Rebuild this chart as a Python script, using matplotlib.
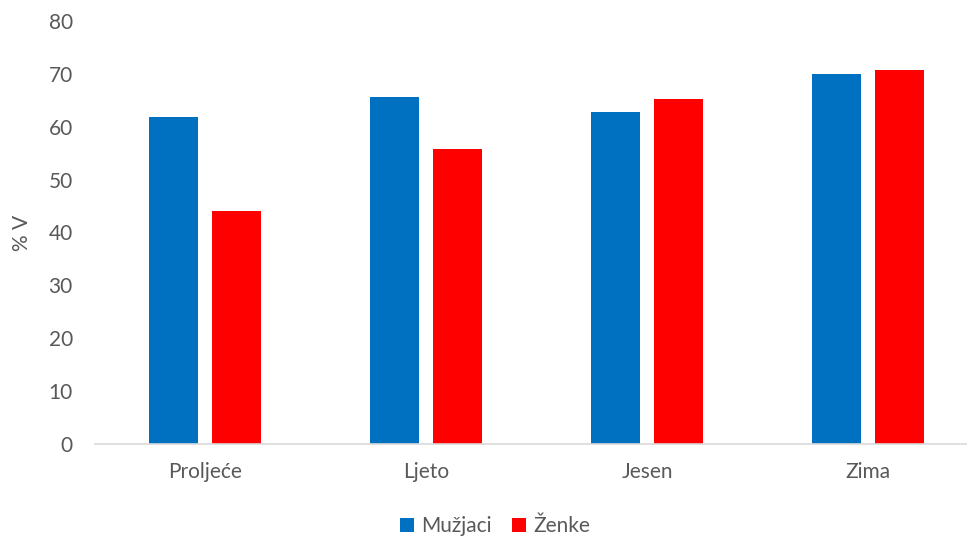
import matplotlib
matplotlib.use("Agg")
import matplotlib.pyplot as plt
import numpy as np

plt.rcParams['font.family'] = ['Lato', 'DejaVu Sans']

# --- Data ---
seasons = ["Proljeće", "Ljeto", "Jesen", "Zima"]
muzjaci = [61.8, 65.7, 62.8, 70.0]
zenke = [44.1, 55.7, 65.2, 70.7]

blue = "#0070C0"
red = "#FF0000"
grey = "#595959"
fs = 15

fig = plt.figure(figsize=(9.67, 5.4), dpi=100)
ax = fig.add_axes([95 / 967, 1 - 444 / 540, 872 / 967, (444 - 21) / 540])

x = np.arange(len(seasons))
w = 0.222
off = 0.285 / 2
ax.bar(x - off, muzjaci, width=w, color=blue, label="Mužjaci")
ax.bar(x + off, zenke, width=w, color=red, label="Ženke")

ax.set_xlim(-0.5, 3.448)
ax.set_ylim(0, 80)
ax.set_yticks(range(0, 81, 10))
ax.set_xticks(x)
ax.set_xticklabels(seasons)
ax.tick_params(axis='both', length=0, labelsize=fs, labelcolor=grey)
ax.tick_params(axis='x', pad=13)
ax.tick_params(axis='y', pad=16)

for s in ["top", "right", "left"]:
    ax.spines[s].set_visible(False)
ax.spines["bottom"].set_color("#D9D9D9")
ax.spines["bottom"].set_linewidth(1.2)

ax.set_ylabel("% V", fontsize=fs, color=grey, labelpad=12)

fig.legend(loc="center", bbox_to_anchor=(495 / 967, 1 - 526 / 540), ncol=2,
           frameon=False, fontsize=fs, handlelength=0.65, handleheight=0.65,
           handletextpad=0.35, columnspacing=1.0, labelcolor=grey)

fig.savefig("out.png", dpi=100)
